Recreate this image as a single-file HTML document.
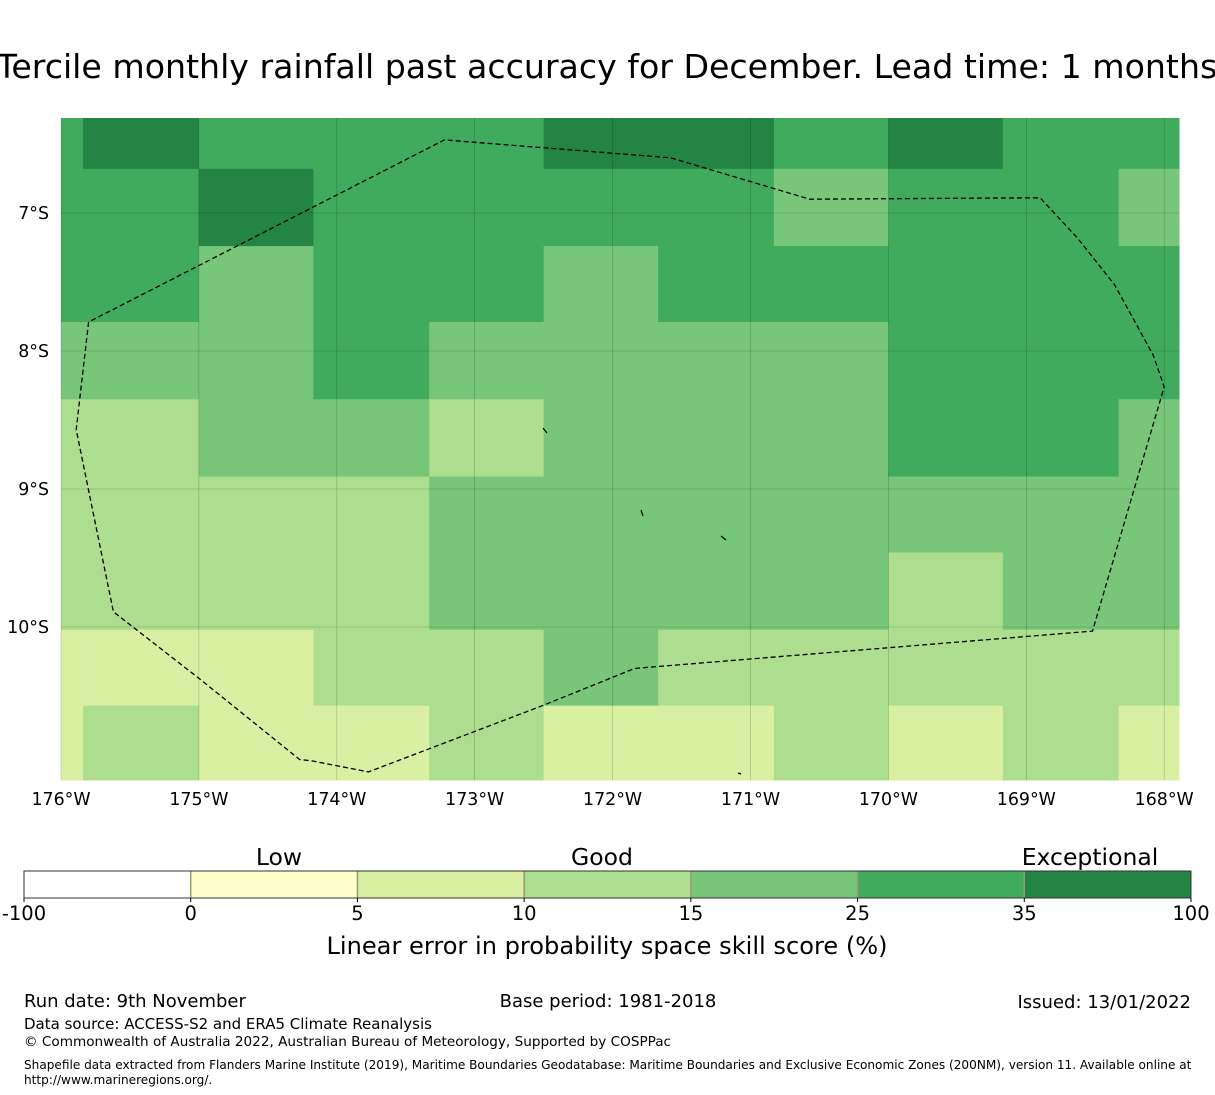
<!DOCTYPE html>
<html><head><meta charset="utf-8"><style>
html,body{margin:0;padding:0;background:#fff;}
body{width:1215px;height:1095px;overflow:hidden;position:relative;font-family:"DejaVu Sans","Liberation Sans",sans-serif;}
svg{position:absolute;left:0;top:0;}
</style></head><body>
<svg id="chart" width="1215" height="1095" font-family="DejaVu Sans, Liberation Sans, sans-serif">
<text x="607" y="78" font-size="33.2" text-anchor="middle">Tercile monthly rainfall past accuracy for December. Lead time: 1 months</text>
<g id="map"></g>
<g id="cbar"></g>
<text x="607" y="954" font-size="24.1" text-anchor="middle">Linear error in probability space skill score (%)</text>
<text x="24" y="1007" font-size="18">Run date: 9th November</text>
<text x="608" y="1007" font-size="18" text-anchor="middle">Base period: 1981-2018</text>
<text x="1191" y="1008" font-size="18" text-anchor="end">Issued: 13/01/2022</text>
<text x="24" y="1029" font-size="15">Data source: ACCESS-S2 and ERA5 Climate Reanalysis</text>
<text x="24" y="1046" font-size="13.6">© Commonwealth of Australia 2022, Australian Bureau of Meteorology, Supported by COSPPac</text>
<text x="24" y="1069" font-size="12.1">Shapefile data extracted from Flanders Marine Institute (2019), Maritime Boundaries Geodatabase: Maritime Boundaries and Exclusive Economic Zones (200NM), version 11. Available online at</text>
<text x="24" y="1084" font-size="12.1">http://www.marineregions.org/.</text>
</svg>
<script>
// ---- data ----
const levels = [-100, 0, 5, 10, 15, 25, 35, 100];
const levelColors = ['#ffffff','#ffffcc','#d9f0a3','#addd8e','#78c679','#41ab5d','#238443'];
const cbarTopLabels = ['Low','Good','Exceptional'];
const cellLonEdges = [-176, -175.84, -175, -174.17, -173.33, -172.5, -171.67, -170.83, -170, -169.17, -168.33, -167.89];
const cellLatEdges = [-6.31, -6.68, -7.24, -7.79, -8.35, -8.91, -9.46, -10.02, -10.57, -11.11];
const skillRows = [
 [30,40,30,30,30,40,40,30,40,30,30],
 [30,30,40,30,30,30,30,20,30,30,20],
 [30,30,20,30,30,20,30,30,30,30,30],
 [20,20,20,30,20,20,20,20,30,30,30],
 [12,12,20,20,12,20,20,20,30,30,20],
 [12,12,12,12,20,20,20,20,20,20,20],
 [12,12,12,12,20,20,20,20,12,20,20],
 [7,7,7,12,12,20,12,12,12,12,12],
 [7,12,7,7,12,7,7,12,7,12,7]
];
const lonTicks = [-176,-175,-174,-173,-172,-171,-170,-169,-168];
const lonTickLabels = ['176°W','175°W','174°W','173°W','172°W','171°W','170°W','169°W','168°W'];
const latTicks = [-7,-8,-9,-10];
const latTickLabels = ['7°S','8°S','9°S','10°S'];
const eezLon = [-175.80,-175.89,-175.62,-174.99,-174.27,-174.18,-173.77,-172.51,-171.84,-168.52,-168.00,-168.08,-168.36,-168.63,-168.90,-170.57,-171.58,-173.22,-175.80];
const eezLat = [-7.79,-8.57,-9.89,-10.38,-10.96,-10.97,-11.05,-10.57,-10.30,-10.03,-8.26,-8.03,-7.52,-7.18,-6.89,-6.90,-6.60,-6.47,-7.79];
// ---- axes ----
const X0=61, PXD=137.9, Y7=213, PYD=138;
const xs = lon => X0 + (lon + 176) * PXD;
const ys = lat => Y7 + (-7 - lat) * PYD;
const MAPL=61, MAPR=1179, MAPT=118, MAPB=780;
const NS='http://www.w3.org/2000/svg';
function mk(tag, attrs, parent){const e=document.createElementNS(NS,tag);for(const k in attrs)e.setAttribute(k,attrs[k]);parent.appendChild(e);return e;}
function colorFor(v){for(let i=0;i<levels.length-1;i++){if(v>=levels[i]&&v<levels[i+1])return levelColors[i];}return levelColors[levelColors.length-1];}
const map=document.getElementById('map');
for(let r=0;r<skillRows.length;r++){for(let c=0;c<skillRows[r].length;c++){
  const x1=Math.max(MAPL,xs(cellLonEdges[c])), x2=Math.min(MAPR,xs(cellLonEdges[c+1]));
  const y1=Math.max(MAPT,ys(cellLatEdges[r])), y2=Math.min(MAPB,ys(cellLatEdges[r+1]));
  const el=mk('rect',{x:x1,y:y1,width:x2-x1+0.5,height:y2-y1+0.5,fill:colorFor(skillRows[r][c])},map);
  
  
}}
lonTicks.forEach((t,i)=>{
  const x=xs(t);
  const l=mk('line',{x1:x,x2:x,y1:MAPT,y2:MAPB,stroke:'#000','stroke-opacity':0.25,'stroke-width':0.6},map);
  
  
  const tx=mk('text',{x:x,y:805,'font-size':17.4,'text-anchor':'middle'},map);
  tx.textContent=lonTickLabels[i];
  
  
});
latTicks.forEach((t,i)=>{
  const y=ys(t);
  const l=mk('line',{x1:MAPL,x2:MAPR,y1:y,y2:y,stroke:'#000','stroke-opacity':0.25,'stroke-width':0.6},map);
  
  
  const tx=mk('text',{x:49,y:y+6,'font-size':17.4,'text-anchor':'end'},map);
  tx.textContent=latTickLabels[i];
  
  
});
const pts=eezLon.map((lo,i)=>xs(lo).toFixed(1)+','+ys(eezLat[i]).toFixed(1)).join(' ');
const eez=mk('polyline',{points:pts,fill:'none',stroke:'#000','stroke-width':1.3,'stroke-dasharray':'5,3'},map);


const islands=[[543,428,547,433],[641,510,643,516],[721,536,726,540],[738,773,741,774]];
islands.forEach(s=>{
  const il=mk('line',{x1:s[0],y1:s[1],x2:s[2],y2:s[3],stroke:'#000','stroke-width':1.2},map);
  
  
});
// ---- colorbar ----
const cb=document.getElementById('cbar');
const CBL=24, CBR=1191, CBT=871, CBB=898, seg=(CBR-CBL)/levelColors.length;
levelColors.forEach((col,i)=>{
  const r=mk('rect',{x:CBL+i*seg,y:CBT,width:seg,height:CBB-CBT,fill:col},cb);
  
  
  if(i>0){const d=mk('line',{x1:CBL+i*seg,x2:CBL+i*seg,y1:CBT,y2:CBB,stroke:'#9a9a70','stroke-width':1.5},cb);
    
    }
});
const fr=mk('rect',{x:CBL,y:CBT,width:CBR-CBL,height:CBB-CBT,fill:'none',stroke:'#333','stroke-width':1},cb);


levels.forEach((v,i)=>{
  const x=CBL+i*seg;
  const tk=mk('line',{x1:x,x2:x,y1:CBB,y2:CBB+4,stroke:'#000'},cb);
  
  
  const t=mk('text',{x:x,y:920,'font-size':19.5,'text-anchor':'middle'},cb);
  t.textContent=String(v);
  
  
});
const topX=[279,602,1090];
cbarTopLabels.forEach((s,i)=>{
  const t=mk('text',{x:topX[i],y:865,'font-size':23.5,'text-anchor':'middle'},cb);
  t.textContent=s;
  
  
});
</script>
</body></html>
